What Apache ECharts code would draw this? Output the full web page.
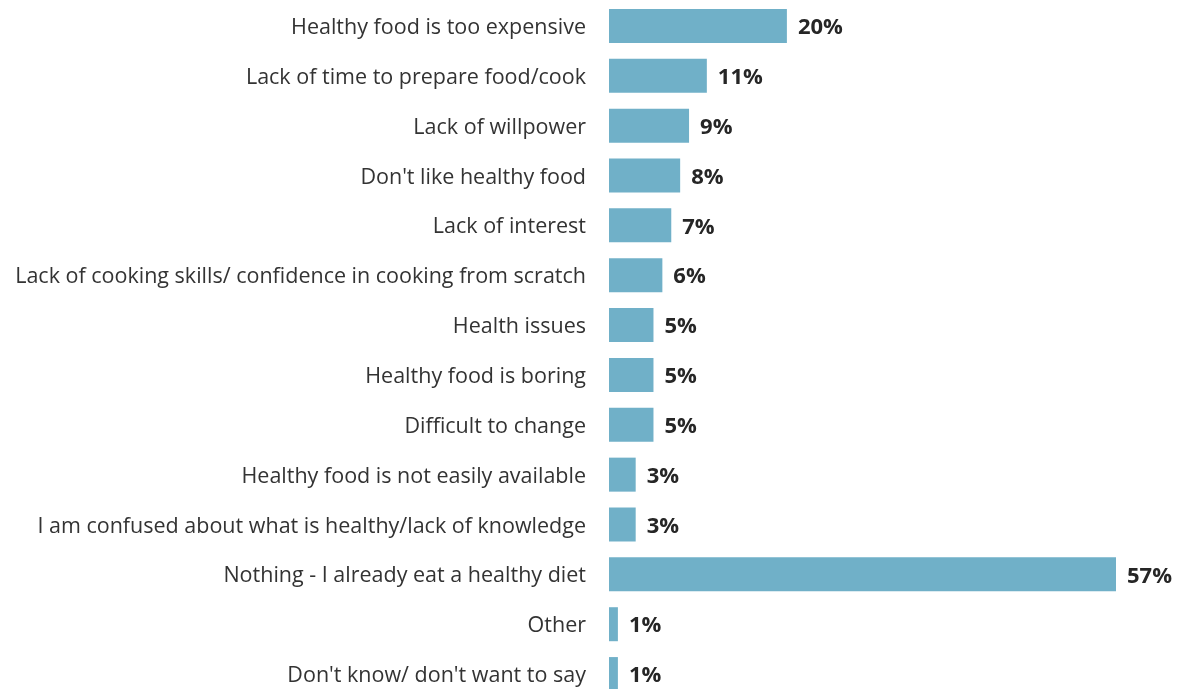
<!DOCTYPE html>
<html>
<head>
<meta charset="utf-8">
<script src="https://cdn.jsdelivr.net/npm/echarts@6/dist/echarts.min.js"></script>
<style>
  html, body { margin: 0; padding: 0; background: #ffffff; }
  #chart { width: 1179px; height: 689px; }
</style>
</head>
<body>
<div id="chart"></div>
<script>
// Barriers to eating a healthier diet (% of respondents)
const categories = [
  "Healthy food is too expensive",
  "Lack of time to prepare food/cook",
  "Lack of willpower",
  "Don't like healthy food",
  "Lack of interest",
  "Lack of cooking skills/ confidence in cooking from scratch",
  "Health issues",
  "Healthy food is boring",
  "Difficult to change",
  "Healthy food is not easily available",
  "I am confused about what is healthy/lack of knowledge",
  "Nothing - I already eat a healthy diet",
  "Other",
  "Don't know/ don't want to say"
];
const values = [20, 11, 9, 8, 7, 6, 5, 5, 5, 3, 3, 57, 1, 1];

const FONT = "Open Sans";
const chart = echarts.init(document.getElementById("chart"), null, { renderer: "canvas" });
chart.setOption({
  animation: false,
  grid: {
    left: 609,
    right: 63,
    top: 1,
    bottom: -10,
    containLabel: false,
    outerBoundsMode: "none"
  },
  xAxis: {
    type: "value",
    min: 0,
    max: 57,
    show: false
  },
  yAxis: {
    type: "category",
    inverse: true,
    data: categories,
    axisLine: { show: false },
    axisTick: { show: false },
    splitLine: { show: false },
    axisLabel: {
      margin: 23,
      formatter: (v) => "{t|" + v + "}",
      rich: {
        t: {
          fontFamily: FONT,
          fontSize: 21.5,
          color: "#333333",
          padding: [4, 0, 0, 0]
        }
      }
    }
  },
  series: [{
    type: "bar",
    data: values,
    barWidth: 34,
    itemStyle: { color: "#70B0C8" },
    label: {
      show: true,
      position: "right",
      distance: 11,
      offset: [0, 2],
      formatter: "{c}%",
      fontFamily: FONT,
      fontSize: 22,
      fontWeight: "bold",
      color: "#262626"
    }
  }]
});
</script>
</body>
</html>
